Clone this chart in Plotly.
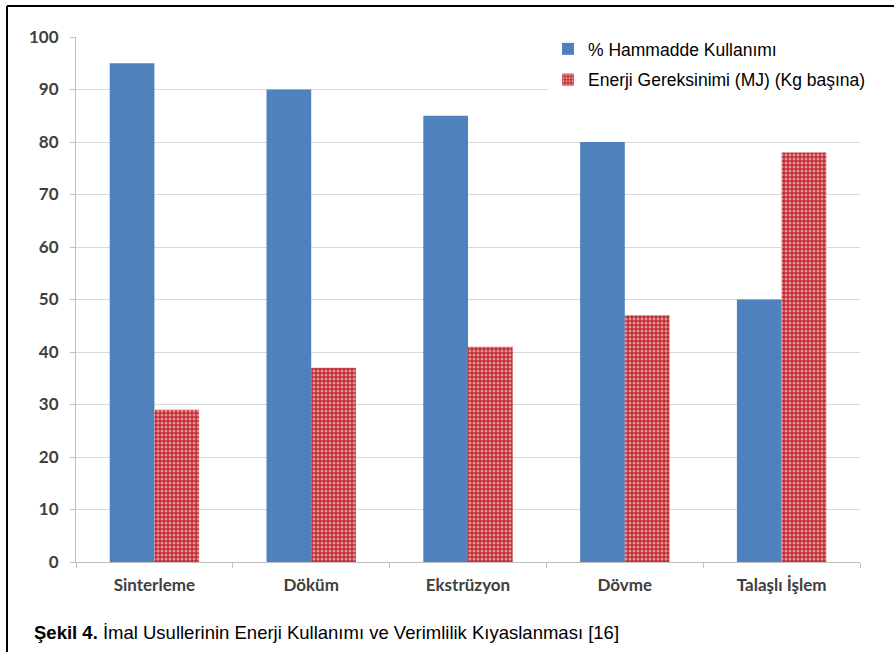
import plotly.graph_objects as go

# Manufacturing methods compared
categories = ["Sinterleme", "Döküm", "Ekstrüzyon", "Dövme", "Talaşlı İşlem"]
raw_material_use = [95, 90, 85, 80, 50]          # % Hammadde Kullanımı
energy_need = [29, 37, 41, 47, 78]               # Enerji Gereksinimi (MJ) (Kg başına)
y_ticks = [0, 10, 20, 30, 40, 50, 60, 70, 80, 90, 100]

W, H = 894, 652
L, R, T, B = 76, 34, 37, 90
pw, ph = W - L - R, H - T - B


def px_x(p):
    return (p - L) / pw


def px_y(p):
    return (H - B - p) / ph


fig = go.Figure()
fig.add_trace(go.Bar(
    x=categories, y=raw_material_use, name="% Hammadde Kullanımı",
    marker=dict(color="#4F81BD", line=dict(width=0)),
    legendgroup="a",
))
fig.add_trace(go.Bar(
    x=categories, y=energy_need, name="Enerji Gereksinimi (MJ) (Kg başına)",
    marker=dict(color="#C42A2F", line=dict(width=0),
                pattern=dict(shape=".", fgcolor="white", bgcolor="#C42A2F",
                             size=4, solidity=0.45)),
    legendgroup="b",
))

# frame lines along the top and left edge of the figure
fig.add_shape(type="line", xref="paper", yref="paper",
              x0=px_x(7), x1=px_x(W), y0=px_y(6), y1=px_y(6),
              line=dict(color="black", width=2))
fig.add_shape(type="line", xref="paper", yref="paper",
              x0=px_x(7), x1=px_x(7), y0=px_y(6), y1=px_y(H),
              line=dict(color="black", width=2))

fig.add_annotation(
    xref="paper", yref="paper", x=px_x(32), y=px_y(632),
    xanchor="left", yanchor="middle", showarrow=False,
    text="<b>Şekil 4.</b> İmal Usullerinin Enerji Kullanımı ve Verimlilik Kıyaslanması [16]",
    font=dict(family="Liberation Sans, Arial, sans-serif", size=18.5, color="black"),
)

fig.update_layout(
    width=W, height=H,
    margin=dict(l=L, r=R, t=T, b=B),
    paper_bgcolor="white", plot_bgcolor="white",
    barmode="group", bargap=0.43, bargroupgap=0,
    legend=dict(
        x=px_x(548), y=px_y(31), xanchor="left", yanchor="top",
        bgcolor="white", traceorder="grouped", tracegroupgap=5,
        font=dict(family="Liberation Sans, Arial, sans-serif", size=17.5, color="black"),
        itemwidth=30,
    ),
    xaxis=dict(
        type="category", showgrid=False, showline=True, linecolor="#BFBFBF",
        ticks="outside", tickson="boundaries", ticklen=5, tickcolor="#BFBFBF",
        ticklabelstandoff=8,
        tickfont=dict(family="Lato, sans-serif", size=17, color="#404040", weight="bold"),
    ),
    yaxis=dict(
        range=[0, 100], tickvals=y_ticks, showgrid=True, gridcolor="#D9D9D9",
        showline=True, linecolor="#BFBFBF", ticks="outside", ticklen=5,
        tickcolor="#BFBFBF", zeroline=False, ticklabelstandoff=8,
        tickfont=dict(family="Lato, sans-serif", size=17, color="#404040", weight="bold"),
    ),
)

fig.write_html("out.html")
